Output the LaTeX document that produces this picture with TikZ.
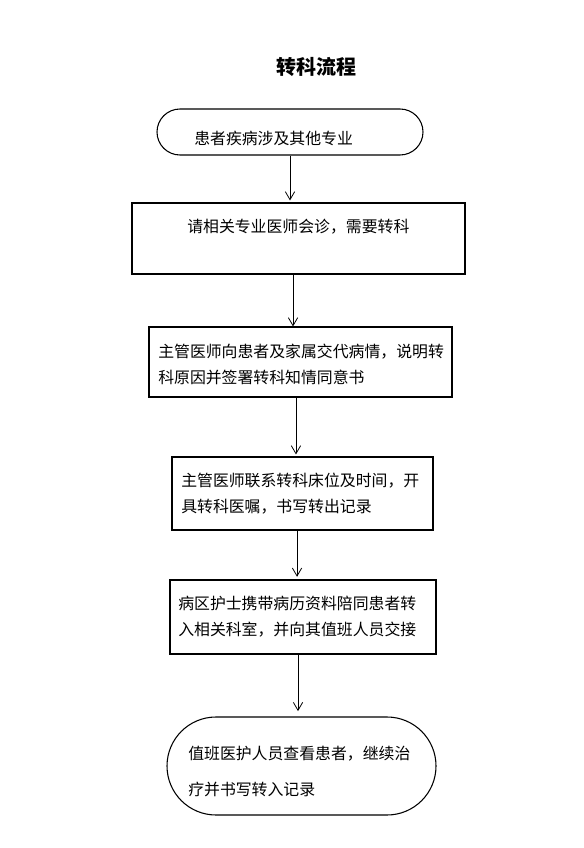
\documentclass[tikz,border=0pt]{standalone}
\usepackage{fontspec}
\setmainfont{Noto Sans CJK SC}
\usetikzlibrary{arrows.meta,shapes.misc}

\begin{document}
\begin{tikzpicture}[x=0.75pt,y=0.75pt,yscale=-1,xscale=1,
  stepbox/.style={draw,line width=0.8pt,rectangle,inner sep=0pt},
  termbox/.style={draw,line width=0.8pt,rounded rectangle,inner sep=0pt},
  txt/.style={anchor=west,align=left,inner sep=0pt,font=\fontsize{11.9}{19.5}\selectfont},
  arr/.style={line width=0.6pt,-{Straight Barb[length=6pt,width=7pt,line width=0.6pt]}}]
%uncomment if require: \path (0,848); %set diagram left start at 0, and has height of 848
\useasboundingbox (0,0) rectangle (583,848);

% Text Node
\node[font=\bfseries\fontsize{15}{18}\selectfont] (title) at (316,67) {转科流程};

%Shape: Terminator
\node[termbox,minimum width=199.5pt,minimum height=34.5pt] (start) at (290,132) {};
% Text Node
\node[txt] (startText) at (194,138) {患者疾病涉及其他专业};

%Shape: Rectangle
\node[stepbox,minimum width=249.75pt,minimum height=53.25pt] (consult) at (298.5,238.5) {};
% Text Node
\node[txt] (consultText) at (187,227) {请相关专业医师会诊，需要转科};

%Shape: Rectangle
\node[stepbox,minimum width=227.25pt,minimum height=52.5pt] (explain) at (300.5,362) {};
% Text Node
\node[txt] (explainText) at (158,364.5) {主管医师向患者及家属交代病情，说明转\\科原因并签署转科知情同意书};

%Shape: Rectangle
\node[stepbox,minimum width=195.75pt,minimum height=54.75pt] (contact) at (302.5,493.5) {};
% Text Node
\node[txt] (contactText) at (181,493.5) {主管医师联系转科床位及时间，开\\具转科医嘱，书写转出记录};

%Shape: Rectangle
\node[stepbox,minimum width=199.5pt,minimum height=55.5pt] (escort) at (303,617) {};
% Text Node
\node[txt] (escortText) at (178,617) {病区护士携带病历资料陪同患者转\\入相关科室，并向其值班人员交接};

%Shape: Terminator
\node[termbox,minimum width=201.75pt,minimum height=73.5pt] (finish) at (301.5,766) {};
% Text Node
\node[txt,font=\fontsize{11.9}{27}\selectfont] (finishText) at (188,772) {值班医护人员查看患者，继续治\\疗并书写转入记录};

%Straight Lines
\draw[arr] (start.south) -- ([yshift=-1.5pt]start.south |- consult.north);
%Straight Lines
\draw[arr] ([xshift=-4.1pt]consult.south) -- ([xshift=-4.1pt]consult.south |- explain.north);
%Straight Lines
\draw[arr] ([xshift=-3.4pt]explain.south) -- ([xshift=-3.4pt,yshift=-1.5pt]explain.south |- contact.north);
%Straight Lines
\draw[arr] ([xshift=-4.1pt]contact.south) -- ([xshift=-4.1pt,yshift=-2pt]contact.south |- escort.north);
%Straight Lines
\draw[arr] ([xshift=-3.75pt]escort.south) -- ([xshift=-3.75pt,yshift=-4pt]escort.south |- finish.north);

\end{tikzpicture}
\end{document}
